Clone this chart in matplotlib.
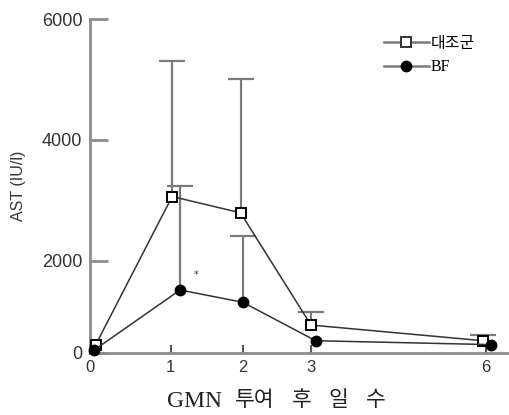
import numpy as np
import matplotlib
matplotlib.use("Agg")
import matplotlib.pyplot as plt
from matplotlib.lines import Line2D

# ---- data ----
days_ctrl = [0.07, 1.02, 1.97, 3.0, 5.95]
ast_ctrl = [170, 3060, 2790, 600, 260]
err_ctrl = [0, 2240, 2210, 275, 130]

days_bf = [0.05, 1.13, 2.0, 3.08, 6.09]
ast_bf = [55, 1360, 1095, 260, 175]
err_bf = [0, 1870, 1305, 0, 0]

xticks = [0, 1, 2, 3, 6]
yticks = [0, 2000, 4000, 6000]
labels = ["대조군", "BF"]
star_pos = (1.36, 1690)
xlabel_words = ["GMN", "투여", "후", "일", "수"]

# ---- custom (non-uniform) axis scales, as in the original figure ----
xk_v = np.array([-1, 0, 1, 2, 3, 6, 8], float)
xk_p = np.array([-80.7, 0, 80.7, 152.7, 221, 396, 513.2])
yk_v = np.array([-2000, 0, 2000, 4000, 6000, 8000], float)
yk_p = np.array([-92, 0, 92, 212.5, 333, 453.5])

def fx(v): return np.interp(v, xk_v, xk_p)
def ix(p): return np.interp(p, xk_p, xk_v)
def fy(v): return np.interp(v, yk_v, yk_p)
def iy(p): return np.interp(p, yk_p, yk_v)

W, H = 510, 415
fig = plt.figure(figsize=(W / 100, H / 100), dpi=100)
ax = fig.add_axes([90 / W, (H - 352.7) / H, (W - 90) / W, (352.7 - 19) / H])
ax.set_xscale("function", functions=(fx, ix))
ax.set_yscale("function", functions=(fy, iy))
ax.set_xlim(0, 6.41)
ax.set_ylim(0, 6000)

spine_c = "#8c8c8c"
err_c = "#7a7a7a"
line_c = "#333333"

# error bars (upper only)
for xs, ys, es in [(days_ctrl, ast_ctrl, err_ctrl), (days_bf, ast_bf, err_bf)]:
    xs = np.array(xs); ys = np.array(ys); es = np.array(es)
    m = es > 0
    ax.vlines(xs[m], ys[m], ys[m] + es[m], color=err_c, lw=1.6, zorder=2)
    ax.plot(xs[m], ys[m] + es[m], ls="none", marker="_", ms=19, mew=1.6,
            color=err_c, zorder=2)

ax.plot(days_ctrl, ast_ctrl, color=line_c, lw=1.1, marker="s", ms=6.5,
        mfc="white", mec="black", mew=1.4, zorder=4, clip_on=False)
ax.plot(days_bf, ast_bf, color=line_c, lw=1.1, marker="o", ms=7.5,
        mfc="black", mec="black", zorder=4, clip_on=False)

ax.text(star_pos[0], star_pos[1], "*", fontsize=7, ha="center", va="center",
        color="#333333")

# spines & ticks
for s in ["top", "right"]:
    ax.spines[s].set_visible(False)
for s in ["left", "bottom"]:
    ax.spines[s].set_color(spine_c)
    ax.spines[s].set_linewidth(2)
ax.set_xticks(xticks)
ax.set_yticks(yticks)
ax.set_xticklabels([str(t) for t in xticks])
ax.set_yticklabels([str(t) for t in yticks])
ax.tick_params(axis="y", direction="in", length=13, width=2, color=spine_c,
               pad=5.5, labelsize=13, labelcolor="#333333")
ax.tick_params(axis="x", direction="in", length=6, width=1.5, color="#555555",
               pad=5.5, labelsize=12, labelcolor="#333333")
for lab in ax.get_xticklabels() + ax.get_yticklabels():
    lab.set_family("Liberation Sans")

ax.set_ylabel("AST (IU/l)", family="Liberation Sans", fontsize=11.5,
              color="#333333")
ax.yaxis.set_label_coords((26 - 90) / 420, 0.5)

xlabel_cx = [195, 255, 302, 338, 376]
for w, cx in zip(xlabel_words, xlabel_cx):
    fs = 17 if w == "GMN" else 15.5
    fig.text(cx / W, 1 - 401 / H, w,
             family=["Liberation Serif", "Noto Sans CJK KR"], fontsize=fs,
             ha="center", va="center", color="#222222")

handles = [
    Line2D([], [], color=err_c, lw=1.8, marker="s", ms=6.5, mfc="white",
           mec="#333333", mew=1.4),
    Line2D([], [], color=err_c, lw=1.8, marker="o", ms=7.5, mfc="black",
           mec="black"),
]
leg = ax.legend(handles, labels, loc="upper left",
                bbox_to_anchor=(384 / W, 1 - 36 / H),
                bbox_transform=fig.transFigure, frameon=False,
                prop={"family": ["Liberation Serif", "Noto Sans CJK KR"],
                      "size": 11.5},
                handlelength=2.8, handletextpad=0.1, labelspacing=0.45,
                borderpad=0, borderaxespad=0)

fig.savefig("out.png", dpi=100)
